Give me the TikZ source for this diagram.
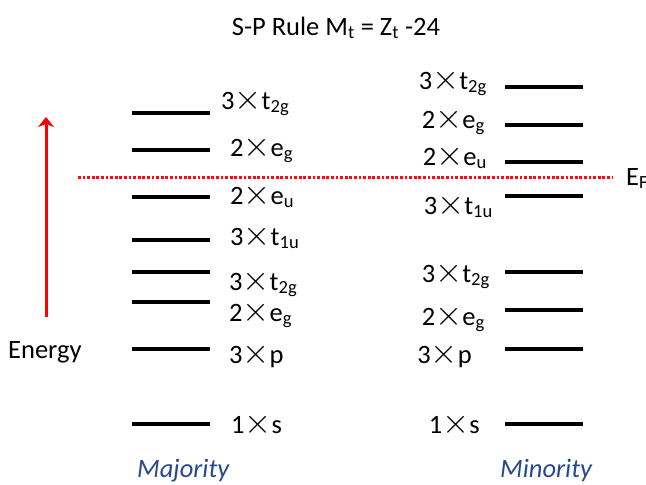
\documentclass[tikz,border=0pt]{standalone}
\usepackage{fontspec}
\setmainfont{Carlito}
\usetikzlibrary{arrows.meta}
\definecolor{spinblue}{RGB}{40,72,140}
\definecolor{fermired}{RGB}{235,20,20}
\newcommand{\tms}{\scalebox{1.4}{$\times$}}
\newcommand{\orb}[3]{#1\tms#2\textsubscript{#3}}
\begin{document}
\begin{tikzpicture}[
  x=1pt, y=-1pt,
  every node/.style={inner sep=0pt, font=\fontsize{26.5}{30}\selectfont},
  level/.style={line width=3.2pt, black},
  majlab/.style={anchor=base west},
  minlab/.style={anchor=base east},
  spin/.style={anchor=base west, text=spinblue, font=\fontsize{26.5}{30}\selectfont\itshape}
]
\useasboundingbox (0,0) rectangle (646,485);
% title
\node[anchor=base] (title) at (336,35) {S-P Rule M\textsubscript{t} = Z\textsubscript{t} -24};
% energy axis
\coordinate (ebot) at (46,317);
\coordinate (etop) at (46,117);
\draw[red, line width=3pt, -{Stealth[length=10pt, width=16pt, inset=3pt]}] (ebot) -- (etop);
\node[anchor=base west] (energy) at (8,358) {Energy};
% Fermi level
\coordinate (fl) at (78,177);
\coordinate (fr) at (613,177);
\draw[fermired, line width=3pt, dash pattern=on 2.8pt off 1.8pt] (fl) -- (fr);
\node[anchor=base west] (ef) at (626,185) {E\textsubscript{F}};
% majority levels
\draw[level] (132,113) -- (210,113);
\draw[level] (132,150) -- (210,150);
\draw[level] (132,197) -- (210,197);
\draw[level] (132,240) -- (210,240);
\draw[level] (132,272) -- (210,272);
\draw[level] (132,302) -- (210,302);
\draw[level] (132,349) -- (210,349);
\draw[level] (132,424) -- (210,424);
\node[majlab] (ma1) at (221,109) {\orb{3}{t}{2g}};
\node[majlab] (ma2) at (230,156) {\orb{2}{e}{g}};
\node[majlab] (ma3) at (230,204) {\orb{2}{e}{u}};
\node[majlab] (ma4) at (230,245) {\orb{3}{t}{1u}};
\node[majlab] (ma5) at (229,290) {\orb{3}{t}{2g}};
\node[majlab] (ma6) at (229,321) {\orb{2}{e}{g}};
\node[majlab] (ma7) at (229,363) {3\tms p};
\node[majlab] (ma8) at (231,433) {1\tms s};
% minority levels
\draw[level] (505,87) -- (583,87);
\draw[level] (505,125) -- (583,125);
\draw[level] (505,162) -- (583,162);
\draw[level] (505,196) -- (583,196);
\draw[level] (505,272) -- (583,272);
\draw[level] (505,310) -- (583,310);
\draw[level] (505,349) -- (583,349);
\draw[level] (505,424) -- (583,424);
\node[minlab] (mi1) at (487,89) {\orb{3}{t}{2g}};
\node[minlab] (mi2) at (485,128) {\orb{2}{e}{g}};
\node[minlab] (mi3) at (487,165) {\orb{2}{e}{u}};
\node[minlab] (mi4) at (493,214) {\orb{3}{t}{1u}};
\node[minlab] (mi5) at (490,282) {\orb{3}{t}{2g}};
\node[minlab] (mi6) at (485,325) {\orb{2}{e}{g}};
\node[minlab] (mi7) at (472,363) {3\tms p};
\node[minlab] (mi8) at (480,433) {1\tms s};
% spin channels
\node[spin] (maj) at (137,477) {Majority};
\node[spin] (min) at (500,477) {Minority};
\end{tikzpicture}
\end{document}
